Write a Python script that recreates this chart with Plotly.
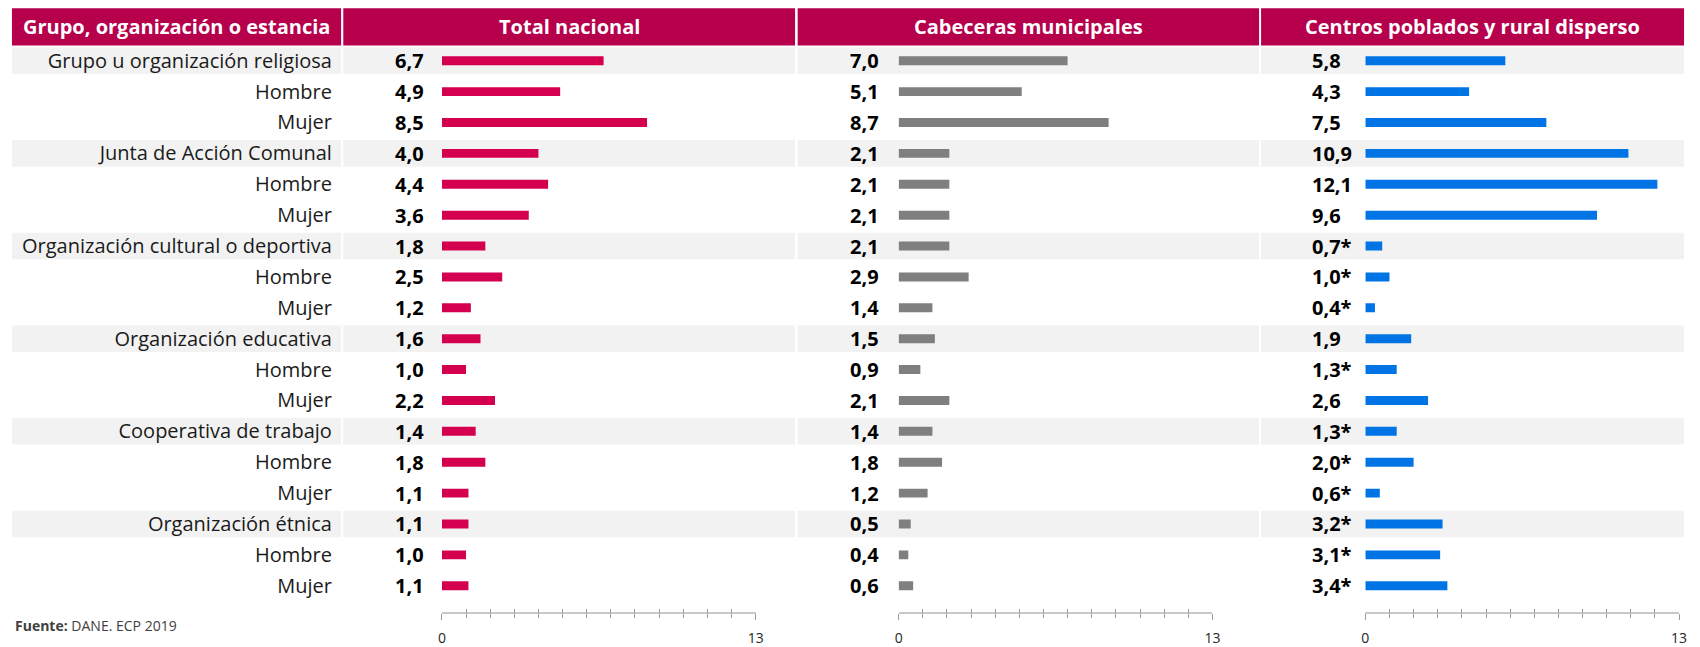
import plotly.graph_objects as go

W, H = 1700, 647

labels = ["Grupo u organización religiosa", "Hombre", "Mujer",
          "Junta de Acción Comunal", "Hombre", "Mujer",
          "Organización cultural o deportiva", "Hombre", "Mujer",
          "Organización educativa", "Hombre", "Mujer",
          "Cooperativa de trabajo", "Hombre", "Mujer",
          "Organización étnica", "Hombre", "Mujer"]
total = [6.7, 4.9, 8.5, 4.0, 4.4, 3.6, 1.8, 2.5, 1.2, 1.6, 1.0, 2.2, 1.4, 1.8, 1.1, 1.1, 1.0, 1.1]
cabeceras = [7.0, 5.1, 8.7, 2.1, 2.1, 2.1, 2.1, 2.9, 1.4, 1.5, 0.9, 2.1, 1.4, 1.8, 1.2, 0.5, 0.4, 0.6]
centros = [5.8, 4.3, 7.5, 10.9, 12.1, 9.6, 0.7, 1.0, 0.4, 1.9, 1.3, 2.6, 1.3, 2.0, 0.6, 3.2, 3.1, 3.4]
centros_flag = [0, 0, 0, 0, 0, 0, 1, 1, 1, 0, 1, 0, 1, 1, 1, 1, 1, 1]
headers = ["Grupo, organización o estancia", "Total nacional",
           "Cabeceras municipales", "Centros poblados y rural disperso"]
axis_ticks = [0, 13]

HEAD_BG = "#B6004B"
FONT = "Open Sans"

def fmt(v, flag=0):
    return f"{v:.1f}".replace(".", ",") + ("*" if flag else "")

rows = list(range(len(labels)))

# pixel layout (figure has zero margins, so paper == pixels)
cells = [(8, 339.5), (341.7, 796.7), (799.3, 1264), (1266, 1692)]
plot_x = [(441, 757), (901, 1217), (1371, 1687)]
ydom = [1 - 604 / H, 1 - 45.5 / H]
axis_pos = 1 - 616 / H

series = [
    (total, [0] * len(total), "#D4004F", -49),
    (cabeceras, [0] * len(cabeceras), "#7F7F7F", -51),
    (centros, centros_flag, "#0074E4", -55),
]

fig = go.Figure()
layout = dict(
    width=W, height=H,
    margin=dict(l=0, r=0, t=0, b=0),
    paper_bgcolor="white", plot_bgcolor="rgba(0,0,0,0)",
    showlegend=False, barmode="overlay",
    font=dict(family=FONT, color="black"),
)
annotations = []
shapes = []

for k, (vals, flags, color, shift) in enumerate(series):
    n = k + 1
    xa = "x" if n == 1 else f"x{n}"
    ya = "y" if n == 1 else f"y{n}"
    xo = f"x{n + 3}"
    fig.add_trace(go.Bar(x=vals, y=rows, orientation="h", marker_color=color,
                         marker_line_width=0, width=0.29, xaxis=xa, yaxis=ya,
                         hoverinfo="skip"))
    # invisible trace so the overlay axis (upward ticks) gets drawn
    fig.add_trace(go.Scatter(x=[None], y=[None], xaxis=xo, yaxis=ya,
                             mode="markers", hoverinfo="skip"))
    dom = [plot_x[k][0] / W, plot_x[k][1] / W]
    common = dict(domain=dom, range=[0, 13], anchor="free", position=axis_pos,
                  showgrid=False, zeroline=False, fixedrange=True)
    layout["xaxis" if n == 1 else f"xaxis{n}"] = dict(
        **common, showline=True, linecolor="#C8C8C8", linewidth=2,
        tickmode="array", tickvals=axis_ticks, ticktext=[str(t) for t in axis_ticks],
        ticks="outside", ticklen=6, tickwidth=1, tickcolor="#9A9A9A",
        tickfont=dict(size=14, color="#262626"), ticklabelstandoff=6,
        minor=dict(dtick=1, tick0=0, ticks="outside", ticklen=4,
                   tickwidth=1, tickcolor="#9A9A9A"),
    )
    layout[f"xaxis{n + 3}"] = dict(
        **common, overlaying=xa, showline=False, showticklabels=False,
        tickmode="array", tickvals=axis_ticks,
        ticks="inside", ticklen=6, tickwidth=1, tickcolor="#9A9A9A",
        minor=dict(dtick=1, tick0=0, ticks="inside", ticklen=4,
                   tickwidth=1, tickcolor="#9A9A9A"),
    )
    ydict = dict(domain=ydom, range=[len(rows) - 0.5, -0.5], anchor=xa,
                 showgrid=False, zeroline=False, showline=False,
                 automargin=False, fixedrange=True)
    if n == 1:
        ydict.update(tickmode="array", tickvals=rows, ticktext=labels,
                     ticks="", ticklabelstandoff=109,
                     tickfont=dict(size=20, color="#1A1A1A"))
    else:
        ydict.update(showticklabels=False, ticks="")
    layout["yaxis" if n == 1 else f"yaxis{n}"] = ydict

    for i, (v, f) in enumerate(zip(vals, flags)):
        annotations.append(dict(
            x=0, y=i, xref=xa, yref=ya, text=f"<b>{fmt(v, f)}</b>",
            showarrow=False, xanchor="left", xshift=shift,
            font=dict(size=20, color="black", family=FONT)))

# grey bands behind group rows
for i, lab in enumerate(labels):
    if lab in ("Hombre", "Mujer"):
        continue
    for (x0, x1) in cells:
        shapes.append(dict(type="rect", xref="paper", yref="y", layer="below",
                           x0=x0 / W, x1=x1 / W, y0=i - 0.43, y1=i + 0.43,
                           fillcolor="#F2F2F2", line_width=0))

# header cells
for (x0, x1), txt in zip(cells, headers):
    shapes.append(dict(type="rect", xref="paper", yref="paper",
                       x0=x0 / W, x1=x1 / W, y0=1 - 45.7 / H, y1=1 - 8.3 / H,
                       fillcolor=HEAD_BG, line_width=0))
    annotations.append(dict(
        x=(x0 + x1) / 2 / W, y=1 - 27 / H, xref="paper", yref="paper",
        text=f"<b>{txt}</b>", showarrow=False, xanchor="center", yanchor="middle",
        font=dict(size=20, color="white", family=FONT)))

annotations.append(dict(
    x=9 / W, y=1 - 628 / H, xref="paper", yref="paper",
    text="<b>Fuente:</b> DANE. ECP 2019", showarrow=False,
    xanchor="left", yanchor="middle",
    font=dict(size=14, color="#404040", family=FONT)))

layout["annotations"] = annotations
layout["shapes"] = shapes
fig.update_layout(**layout)

fig.write_html("out.html", config={"displayModeBar": False},
               post_script="document.body.style.margin='0';"
                           "document.body.style.overflow='hidden';")
